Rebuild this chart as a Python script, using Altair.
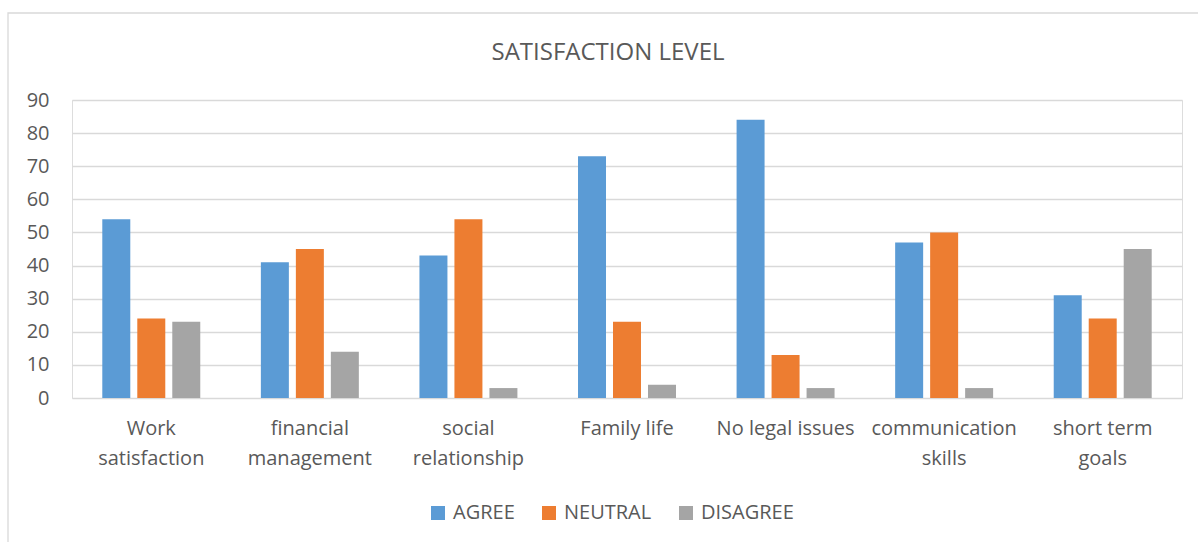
import altair as alt
import pandas as pd

# --- data -------------------------------------------------------------
categories = [
    "Work\nsatisfaction",
    "financial\nmanagement",
    "social\nrelationship",
    "Family life",
    "No legal issues",
    "communication\nskills",
    "short term\ngoals",
]
series = ["AGREE", "NEUTRAL", "DISAGREE"]
agree = [54, 41, 43, 73, 84, 47, 31]
neutral = [24, 45, 54, 23, 13, 50, 24]
disagree = [23, 14, 3, 4, 3, 3, 45]
colors = ["#5B9BD5", "#ED7D31", "#A5A5A5"]
y_ticks = [0, 10, 20, 30, 40, 50, 60, 70, 80, 90]

rows = []
for i, c in enumerate(categories):
    for s, vals in zip(series, [agree, neutral, disagree]):
        rows.append({"category": c, "series": s, "value": vals[i]})
df = pd.DataFrame(rows)

FONT = "Open Sans"
TXT = "#595959"
GRID = "#D9D9D9"

W, H = 1110, 298

bars = alt.Chart(df).mark_bar().encode(
    x=alt.X(
        "category:N",
        sort=categories,
        scale=alt.Scale(paddingInner=0, paddingOuter=0),
        axis=alt.Axis(
            title=None,
            labelAngle=0,
            labelExpr="split(datum.label, '\\n')",
            labelFont=FONT,
            labelFontSize=20,
            labelColor=TXT,
            labelLineHeight=30,
            labelPadding=20,
            ticks=False,
            domain=False,
            grid=False,
        ),
    ),
    xOffset=alt.XOffset(
        "series:N",
        sort=series,
        scale=alt.Scale(paddingInner=0.2, paddingOuter=0.866),
    ),
    y=alt.Y(
        "value:Q",
        scale=alt.Scale(domain=[0, 90], nice=False),
        axis=alt.Axis(
            title=None,
            values=y_ticks,
            labelFont=FONT,
            labelFontSize=20,
            labelColor=TXT,
            labelPadding=23,
            ticks=False,
            domain=False,
            gridColor=GRID,
            gridWidth=1.3,
        ),
    ),
    color=alt.Color(
        "series:N",
        sort=series,
        scale=alt.Scale(domain=series, range=colors),
        legend=alt.Legend(
            title=None,
            orient="none",
            direction="horizontal",
            legendX=356,
            legendY=403,
            symbolType="square",
            symbolSize=196,
            symbolStrokeWidth=0,
            labelFont=FONT,
            labelFontSize=20,
            labelColor=TXT,
            labelOffset=5,
            columnPadding=24,
        ),
    ),
)

frame = alt.Chart(pd.DataFrame({"f": [0]})).mark_rect(
    filled=False, stroke=GRID, strokeWidth=1.3
).encode(
    x=alt.value(-64), x2=alt.value(W + 200), y=alt.value(-87), y2=alt.value(H + 300)
)

chart = alt.layer(frame, bars).properties(
    width=W,
    height=H,
    autosize=alt.AutoSizeParams(type="none"),
    padding={"left": 72, "top": 100, "right": 16, "bottom": 144},
    title=alt.Title(
        "SATISFACTION LEVEL",
        font=FONT,
        fontSize=24,
        fontWeight="normal",
        color=TXT,
        anchor="middle",
        frame="group",
        baseline="alphabetic",
        offset=-72,
        dx=-19,
    ),
).configure_view(stroke=None).configure(background="white")

chart.save("out.html", embed_options={"renderer": "svg", "actions": False})
